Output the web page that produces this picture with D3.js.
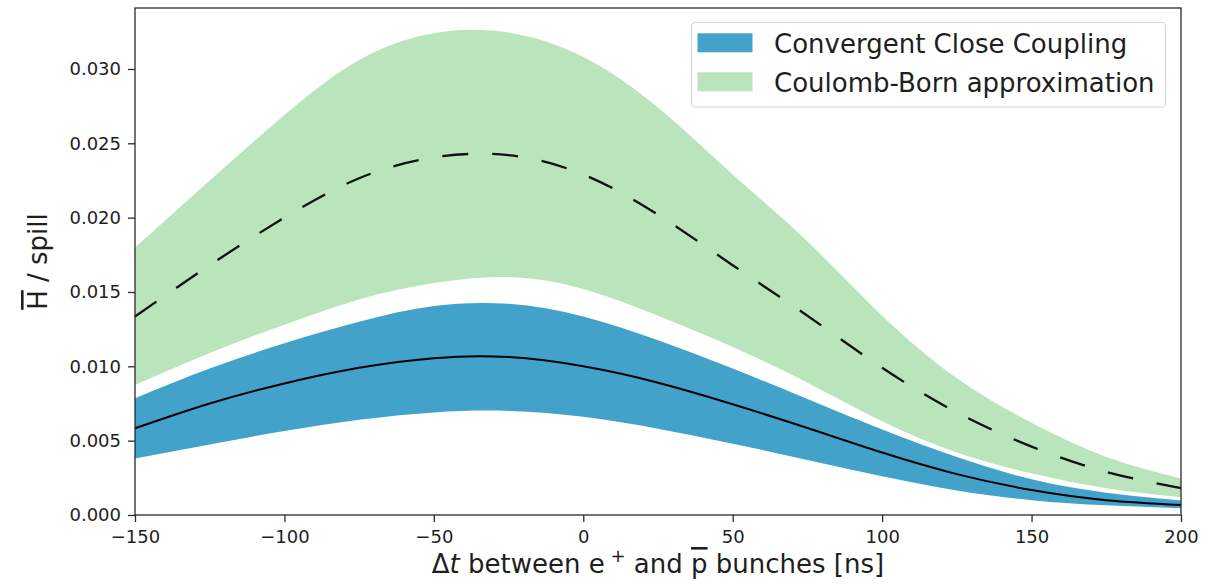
<!DOCTYPE html>
<html>
<head>
<meta charset="utf-8">
<script src="https://cdn.jsdelivr.net/npm/d3@7"></script>
<style>
  html, body { margin: 0; padding: 0; background: #fff; }
  svg text { font-family: "DejaVu Sans", "Liberation Sans", sans-serif; fill: #1e1e1e; }
</style>
</head>
<body>
<svg id="chart" width="1214" height="585"></svg>
<script>
// Time offset between positron and antiproton bunches [ns]
const dt = [-150, -125, -100, -75, -50, -25, 0, 25, 50, 75, 100, 125, 150, 175, 200];

// Convergent Close Coupling: lower bound, central value, upper bound (H-bar per spill)
const cccLow  = [0.0038, 0.00475, 0.00565, 0.0064, 0.0069, 0.0070, 0.0066, 0.0058, 0.0048, 0.0037, 0.0026, 0.00165, 0.0010, 0.00065, 0.00045];
const cccMid  = [0.00583, 0.0075, 0.00885, 0.0099, 0.01055, 0.01062, 0.0100, 0.0089, 0.00745, 0.00585, 0.0042, 0.00275, 0.00168, 0.0010, 0.00068];
const cccHigh = [0.00785, 0.00985, 0.01155, 0.0130, 0.01405, 0.0142, 0.01335, 0.01175, 0.00985, 0.0078, 0.00575, 0.0039, 0.0024, 0.0015, 0.00098];

// Coulomb-Born approximation: lower bound, central value, upper bound
const cbLow  = [0.00875, 0.0109, 0.0128, 0.0145, 0.0156, 0.0160, 0.0152, 0.0134, 0.0113, 0.0089, 0.0063, 0.0042, 0.0028, 0.0018, 0.0012];
const cbMid  = [0.01335, 0.0168, 0.0200, 0.02265, 0.02405, 0.0242, 0.0229, 0.0202, 0.0168, 0.0134, 0.0099, 0.0069, 0.0046, 0.0029, 0.0018];
const cbHigh = [0.0180, 0.0225, 0.0269, 0.0306, 0.0324, 0.03245, 0.0308, 0.0274, 0.0229, 0.0184, 0.0134, 0.0092, 0.0062, 0.0039, 0.00245];

const xTicks = [-150, -100, -50, 0, 50, 100, 150, 200];
const yTicks = [0, 0.005, 0.010, 0.015, 0.020, 0.025, 0.030];
const legendLabels = ["Convergent Close Coupling", "Coulomb-Born approximation"];
const colors = { ccc: "#43a2ca", cb: "#bae4bc" };

const margin = { left: 135, right: 1214 - 1181, top: 8, bottom: 585 - 515 };
const W = 1214, H = 585;
const svg = d3.select("#chart");

const x = d3.scaleLinear().domain([-150, 200]).range([margin.left, W - margin.right]);
const y = d3.scaleLinear().domain([0, 0.0341]).range([H - margin.bottom, margin.top]);

const pts = (lo, hi) => dt.map((t, i) => ({ t, lo: lo[i], hi: hi[i] }));
const band = d3.area().curve(d3.curveNatural)
  .x(d => x(d.t)).y0(d => y(d.lo)).y1(d => y(d.hi));
const line = d3.line().curve(d3.curveNatural)
  .x(d => x(d.t)).y(d => y(d.v));
const series = vals => dt.map((t, i) => ({ t, v: vals[i] }));

// Uncertainty bands
svg.append("path").datum(pts(cbLow, cbHigh)).attr("d", band).attr("fill", colors.cb);
svg.append("path").datum(pts(cccLow, cccHigh)).attr("d", band).attr("fill", colors.ccc);

// Central curves
svg.append("path").datum(series(cccMid)).attr("d", line)
  .attr("fill", "none").attr("stroke", "#000").attr("stroke-width", 2);
svg.append("path").datum(series(cbMid)).attr("d", line)
  .attr("fill", "none").attr("stroke", "#111").attr("stroke-width", 2.3)
  .attr("stroke-dasharray", "26,24");

// Axes
const xAxis = d3.axisBottom(x).tickValues(xTicks).tickSize(7).tickPadding(8)
  .tickFormat(d3.format("d"));
const yAxis = d3.axisLeft(y).tickValues(yTicks).tickSize(7).tickPadding(7)
  .tickFormat(d3.format(".3f"));

const gx = svg.append("g").attr("transform", `translate(0,${H - margin.bottom})`).call(xAxis);
const gy = svg.append("g").attr("transform", `translate(${margin.left},0)`).call(yAxis);
[gx, gy].forEach(g => {
  g.select(".domain").remove();
  g.selectAll(".tick line").attr("stroke", "#2a2a2a").attr("stroke-width", 1.3);
  g.selectAll(".tick text").attr("font-size", 18).attr("fill", "#1e1e1e")
    .style("font-family", "'DejaVu Sans', sans-serif");
});

// Frame
svg.append("rect")
  .attr("x", margin.left).attr("y", margin.top)
  .attr("width", W - margin.left - margin.right)
  .attr("height", H - margin.top - margin.bottom)
  .attr("fill", "none").attr("stroke", "#2a2a2a").attr("stroke-width", 1.3);

// X axis title: Δt between e+ and p̄ bunches [ns]
const xt = svg.append("text")
  .attr("x", (margin.left + W - margin.right) / 2).attr("y", 573)
  .attr("text-anchor", "middle").attr("font-size", 26);
xt.append("tspan").text("Δ");
xt.append("tspan").attr("font-style", "italic").text("t");
xt.append("tspan").text(" between e");
xt.append("tspan").attr("font-size", 18).attr("dy", -11).text(" +");
xt.append("tspan").attr("dy", 11).text("  and ");
xt.append("tspan").style("text-decoration", "overline").text("p");
xt.append("tspan").text(" bunches [ns]");

// Y axis title: H̄ / spill
const yt = svg.append("text")
  .attr("transform", `translate(47,${(margin.top + H - margin.bottom) / 2}) rotate(-90)`)
  .attr("text-anchor", "middle").attr("font-size", 26);
yt.append("tspan").style("text-decoration", "overline").text("H");
yt.append("tspan").text(" / spill");

// Legend
const lg = svg.append("g");
lg.append("rect")
  .attr("x", 691.5).attr("y", 22.5).attr("width", 474).attr("height", 84.5)
  .attr("rx", 4).attr("fill", "#fff").attr("fill-opacity", 0.85)
  .attr("stroke", "#d6d6d6").attr("stroke-width", 1.2);
const legendColors = [colors.ccc, colors.cb];
legendLabels.forEach((lab, i) => {
  const yy = 33.3 + i * 39;
  lg.append("rect").attr("x", 697.5).attr("y", yy).attr("width", 55).attr("height", 19)
    .attr("fill", legendColors[i]);
  lg.append("text").attr("x", 774).attr("y", yy + 20).attr("font-size", 26).text(lab);
});
</script>
</body>
</html>
